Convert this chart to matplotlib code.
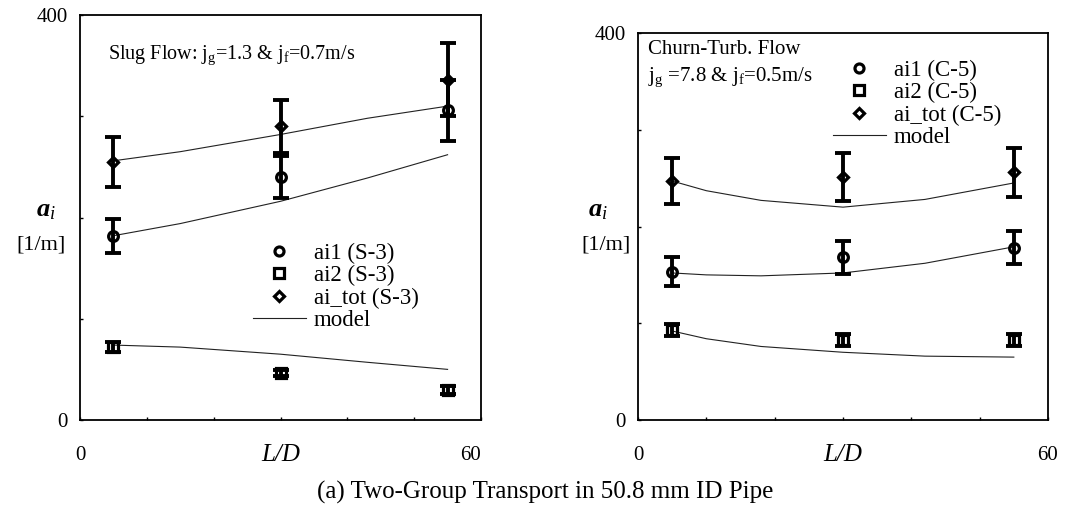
import numpy as np
import matplotlib.pyplot as plt
from matplotlib.lines import Line2D

plt.rcParams['font.family'] = ['Liberation Serif', 'DejaVu Serif']
plt.rcParams['mathtext.fontset'] = 'custom'
plt.rcParams['mathtext.rm'] = 'Liberation Serif'
plt.rcParams['mathtext.it'] = 'Liberation Serif:italic'
plt.rcParams['mathtext.bf'] = 'Liberation Serif:italic:bold'

W, H = 1089, 520

# measuring stations (L/D)
ld = [5, 30, 55]

# slug flow, run S-3
s3_ai1 = [182, 240, 306]
s3_ai1_err = [17, 21, 30]
s3_ai2 = [72, 46, 30]
s3_ai2_err = [5, 3, 4]
s3_tot = [255, 290, 336]
s3_tot_err = [25, 26, 36]

# model, slug flow
s3_model_ld = [5, 15, 30, 43, 55]
s3_model_ai1 = [182, 194, 216, 239, 262]
s3_model_ai2 = [74, 72, 65, 57, 50]
s3_model_tot = [256, 265, 282, 298, 310]

# churn-turbulent flow, run C-5
c5_ai1 = [153, 168, 178]
c5_ai1_err = [15, 17, 17]
c5_ai2 = [93, 83, 83]
c5_ai2_err = [6, 6, 6]
c5_tot = [247, 251, 256]
c5_tot_err = [24, 25, 25]

# model, churn-turbulent flow
c5_model_ld = [5, 10, 18, 30, 42, 55]
c5_model_ai1 = [152, 150, 149, 152, 162, 179]
c5_model_ai2 = [92, 84, 76, 70, 66, 65]
c5_model_tot = [247, 237, 227, 220, 228, 245]


def px(x, y):
    return x / W, 1 - y / H


def draw_panel(ax, ai1, ai1_err, ai2, ai2_err, tot, tot_err, mld, m1, m2, mt):
    for vals, err, mk, ms in [(ai1, ai1_err, 'o', 7), (ai2, ai2_err, 's', 7), (tot, tot_err, 'D', 5.5)]:
        ax.errorbar(ld, vals, yerr=err, fmt='none', ecolor='k',
                    elinewidth=2.8, capsize=6, capthick=2.8, zorder=3)
        # open markers, the error bar shows through them
        ax.plot(ld, vals, ls='none', marker=mk, ms=ms, mfc='none',
                mec='k', mew=2.3, zorder=4)
    for m in (m1, m2, mt):
        ax.plot(mld, m, color='#222222', lw=0.8, zorder=2)

    ax.set_xlim(0, 60)
    ax.set_ylim(0, 400)
    ax.set_xticks(np.arange(0, 61, 10))
    ax.set_xticklabels(['0', '', '', '', '', '', '60'])
    ax.set_yticks(np.arange(0, 401, 100))
    ax.set_yticklabels(['0', '', '', '', '400'])
    ax.tick_params(direction='in', length=2, width=1, labelsize=15)
    ax.tick_params(axis='x', pad=19)
    ax.tick_params(axis='y', pad=9)
    for s in ax.spines.values():
        s.set_linewidth(1.3)


def legend_handles():
    return [
        Line2D([], [], ls='none', marker='o', ms=6.5, mfc='white', mec='k', mew=2.3),
        Line2D([], [], ls='none', marker='s', ms=6.5, mfc='white', mec='k', mew=2.3),
        Line2D([], [], ls='none', marker='D', ms=5.5, mfc='white', mec='k', mew=2.3),
        Line2D([], [], color='#222222', lw=0.8),
    ]


fig = plt.figure(figsize=(W / 100, H / 100), dpi=100)

ax1 = fig.add_axes([80 / W, 1 - 420 / H, (481 - 80) / W, (420 - 15) / H])
draw_panel(ax1, s3_ai1, s3_ai1_err, s3_ai2, s3_ai2_err, s3_tot, s3_tot_err,
           s3_model_ld, s3_model_ai1, s3_model_ai2, s3_model_tot)
ax1.get_xticklabels()[-1].set_ha('right')

ax2 = fig.add_axes([638 / W, 1 - 420 / H, (1048 - 638) / W, (420 - 33) / H])
draw_panel(ax2, c5_ai1, c5_ai1_err, c5_ai2, c5_ai2_err, c5_tot, c5_tot_err,
           c5_model_ld, c5_model_ai1, c5_model_ai2, c5_model_tot)

leg_kw = dict(frameon=False, fontsize=16.5, handlelength=2.3, handletextpad=0.35,
              labelspacing=0.05, borderpad=0, borderaxespad=0, loc='upper left',
              bbox_transform=fig.transFigure)
ax1.legend(legend_handles(), ['ai1 (S-3)', 'ai2 (S-3)', 'ai_tot (S-3)', 'model'],
           bbox_to_anchor=px(253, 243), **leg_kw)
ax2.legend(legend_handles(), ['ai1 (C-5)', 'ai2 (C-5)', 'ai_tot (C-5)', 'model'],
           bbox_to_anchor=px(833, 60), **leg_kw)

# flow conditions
fig.text(*px(108, 55), r'Slug Flow: j$_\mathregular{g}$=1.3 & j$_\mathregular{f}$=0.7m/s',
         fontsize=14.5, va='center')
fig.text(*px(648, 50), 'Churn-Turb. Flow', fontsize=15, va='center')
fig.text(*px(648, 77), r'j$_\mathregular{g}$ =7.8 & j$_\mathregular{f}$=0.5m/s',
         fontsize=15, va='center')

# axis titles
for xa, xb, xl in [(46, 41, 281), (598, 606, 843)]:
    fig.text(*px(xa, 211), r'$\mathbf{a}_i$', fontsize=19, ha='center', va='center')
    fig.text(*px(xb, 245), '[1/m]', fontsize=16, ha='center', va='center')
    fig.text(*px(xl, 455), 'L/D', fontsize=18, style='italic', ha='center', va='center')

fig.text(*px(545, 492), '(a) Two-Group Transport in 50.8 mm ID Pipe',
         fontsize=18, ha='center', va='center')

fig.savefig('out.png', dpi=100)
